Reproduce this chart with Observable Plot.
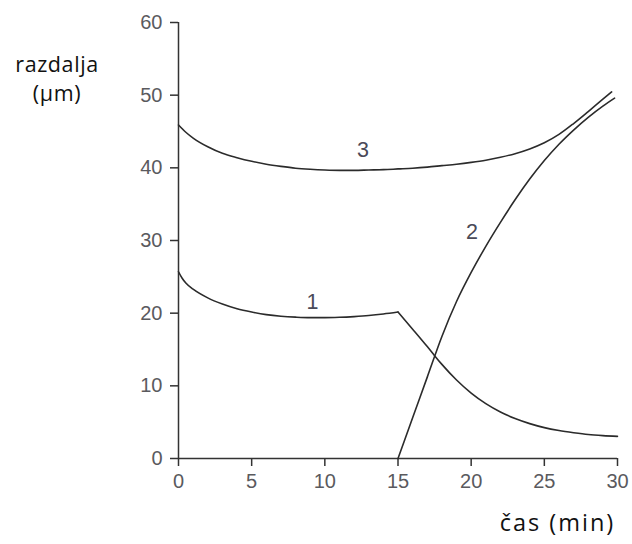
<!DOCTYPE html>
<html>
<head>
<meta charset="utf-8">
<script src="https://cdn.jsdelivr.net/npm/d3@7"></script>
<script src="https://cdn.jsdelivr.net/npm/@observablehq/plot@0.6"></script>
<style>
  html, body { margin: 0; padding: 0; background: #fff; }
  #chart { width: 632px; height: 544px; }
</style>
</head>
<body>
<div id="chart"></div>
<script>
// ---- data ----
const xTicks = [0, 5, 10, 15, 20, 25, 30];
const yTicks = [0, 10, 20, 30, 40, 50, 60];

const yLabelLines = ["razdalja", "(µm)"];
const xLabelText = "čas (min)";

// curve 1 (corner at t = 15)
const series1X = [0, 0.25, 0.5, 1, 2, 3, 4, 5, 6, 7, 8, 9, 10, 11, 12, 13, 14, 15,
                  16, 17, 17.5, 18, 19, 20, 21, 22, 23, 24, 25, 26, 27, 28, 29, 30];
const series1Y = [25.7, 24.8, 24.15, 23.3, 22.1, 21.25, 20.6, 20.15, 19.8, 19.58, 19.45, 19.38, 19.38, 19.43, 19.53, 19.67, 19.88, 20.15,
                  17.8, 15.4, 14.15, 12.95, 10.8, 9.0, 7.55, 6.4, 5.5, 4.8, 4.25, 3.85, 3.55, 3.3, 3.15, 3.05];
const series1Corner = 15;

// curve 2
const series2X = [15, 16, 17, 18, 19, 20, 21, 22, 23, 24, 25, 26, 27, 28, 29, 29.8];
const series2Y = [0, 5.6, 11.2, 16.8, 21.6, 25.6, 29.2, 32.5, 35.6, 38.45, 41.0, 43.25, 45.2, 46.95, 48.5, 49.6];

// curve 3
const series3X = [0, 0.5, 1, 2, 3, 4, 5, 6, 7, 8, 9, 10, 11, 12, 13, 14, 15, 16, 17, 18, 19, 20,
                  21, 22, 23, 24, 25, 26, 27, 28, 29, 29.6];
const series3Y = [45.9, 44.9, 44.1, 42.9, 42.0, 41.4, 40.9, 40.5, 40.2, 39.95, 39.8, 39.7, 39.65, 39.65, 39.7, 39.75, 39.85, 39.95, 40.1, 40.3, 40.5, 40.75,
                  41.05, 41.45, 41.95, 42.6, 43.45, 44.6, 46.1, 47.75, 49.45, 50.45];

// curve labels
const curveLabelText = ["1", "2", "3"];
const curveLabelX = [9.15, 20.05, 12.6];
const curveLabelY = [21.5, 31.1, 42.4];

// ---- build rows ----
const rows = [];
series1X.forEach((x, i) => {
  if (x <= series1Corner) rows.push({x, y: series1Y[i], seg: "1a"});
  if (x >= series1Corner) rows.push({x, y: series1Y[i], seg: "1b"});
});
series2X.forEach((x, i) => rows.push({x, y: series2Y[i], seg: "2"}));
series3X.forEach((x, i) => rows.push({x, y: series3Y[i], seg: "3"}));

const labels = curveLabelText.map((t, i) => ({t, x: curveLabelX[i], y: curveLabelY[i]}));

const labelFont = "'Open Sans', 'Noto Sans', sans-serif";

const chart = Plot.plot({
  width: 632,
  height: 544,
  marginLeft: 178,
  marginRight: 15,
  marginTop: 22,
  marginBottom: 86,
  x: {domain: [0, 30]},
  y: {domain: [0, 60]},
  style: {
    fontFamily: "'Liberation Sans', Arial, sans-serif",
    fontSize: "20px",
    background: "#fff",
    color: "#333"
  },
  marks: [
    Plot.axisX({ticks: xTicks, tickSize: 8, tickPadding: 7, label: null,
                stroke: "#333", fill: "#5a5a5e", strokeWidth: 1.5, fontSize: 20}),
    Plot.axisY({ticks: yTicks, tickSize: 8, tickPadding: 8, label: null,
                stroke: "#333", fill: "#5a5a5e", strokeWidth: 1.5, fontSize: 20}),
    Plot.ruleX([0], {y1: 0, y2: 60, stroke: "#333", strokeWidth: 1.5}),
    Plot.ruleY([0], {x1: 0, x2: 30, stroke: "#333", strokeWidth: 1.5}),
    Plot.line(rows, {x: "x", y: "y", z: "seg", curve: "monotone-x",
                     stroke: "#2b2b2b", strokeWidth: 1.6}),
    Plot.text(labels, {x: "x", y: "y", text: "t", fill: "#4a4a58", fontSize: 21.5,
                       textAnchor: "middle", lineAnchor: "middle"}),
    Plot.text([yLabelLines.join("\n")], {frameAnchor: "top-left", dx: -121.5, dy: 29.5,
                       textAnchor: "middle", lineAnchor: "top", lineHeight: 1.33,
                       fontFamily: labelFont, fontSize: 21.5, fill: "#111"}),
    Plot.text([xLabelText], {frameAnchor: "bottom-right", dx: -60, dy: 72,
                       textAnchor: "middle", lineAnchor: "bottom",
                       fontFamily: labelFont, fontSize: 23.5, fill: "#111"})
  ]
});

// widen the title letter spacing to match the reference widths
d3.select(chart).selectAll("text")
  .filter(function() { return this.textContent === xLabelText; })
  .style("letter-spacing", "2px");
d3.select(chart).selectAll("text")
  .filter(function() { return this.textContent === yLabelLines.join("\n") || this.textContent === yLabelLines.join(""); })
  .style("letter-spacing", "0.6px");

document.getElementById("chart").appendChild(chart);
</script>
</body>
</html>
